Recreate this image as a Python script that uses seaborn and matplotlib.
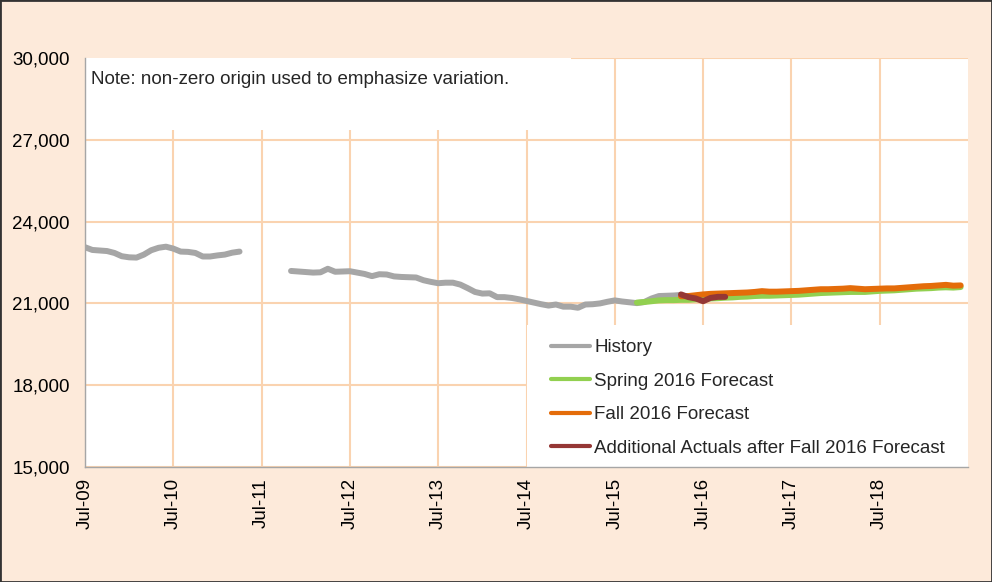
import numpy as np
import pandas as pd
import matplotlib
matplotlib.use("Agg")
import matplotlib.pyplot as plt
import seaborn as sns
from matplotlib.patches import Rectangle
from matplotlib.lines import Line2D

# month index: 0 = Jul-09, 12 = Jul-10, ...
history_start = 0
history = [
    23060, 22960, 22940, 22920, 22850, 22730, 22690, 22680, 22790, 22950, 23040, 23080,
    23010, 22900, 22890, 22850, 22720, 22720, 22760, 22790, 22860, 22900,
    None, None, None, None, None, None,
    22190, 22170, 22150, 22130, 22140, 22270, 22160, 22170,
    22180, 22130, 22080, 22000, 22070, 22060, 21990, 21970, 21960, 21950, 21850, 21790,
    21740, 21760, 21760, 21690, 21560, 21420, 21360, 21370, 21230, 21230, 21200, 21150,
    21090, 21030, 20970, 20920, 20960, 20880, 20880, 20840, 20960, 20970, 21000, 21060,
    21110, 21070, 21040, 21010, 21050, 21180, 21270, 21280, 21290, 21310,
]

spring_start = 75  # Oct-15
spring_2016 = [
    21030, 21050, 21080, 21110, 21120, 21120, 21130, 21130, 21150,
    21170, 21180, 21190, 21210, 21220, 21240, 21250, 21270, 21280, 21280, 21290, 21300,
    21310, 21320, 21340, 21360, 21380, 21390, 21400, 21410, 21420, 21420, 21420, 21440,
    21460, 21470, 21480, 21500, 21520, 21540, 21550, 21560, 21580, 21590, 21580, 21600,
]

fall_start = 81  # Apr-16
fall_2016 = [
    21260, 21270, 21300,
    21330, 21350, 21360, 21370, 21380, 21390, 21400, 21420, 21450, 21430, 21430, 21440,
    21450, 21460, 21480, 21500, 21520, 21520, 21530, 21540, 21560, 21540, 21520, 21530,
    21540, 21550, 21550, 21570, 21590, 21610, 21630, 21640, 21660, 21680, 21650, 21660,
]

actuals_start = 81  # Apr-16
additional_actuals = [21330, 21230, 21180, 21080, 21200, 21240, 21240]

tick_labels = ["Jul-09", "Jul-10", "Jul-11", "Jul-12", "Jul-13",
               "Jul-14", "Jul-15", "Jul-16", "Jul-17", "Jul-18"]
y_ticks = [15000, 18000, 21000, 24000, 27000, 30000]

series_names = ["History", "Spring 2016 Forecast", "Fall 2016 Forecast",
                "Additional Actuals after Fall 2016 Forecast"]
colors = ["#A6A6A6", "#92D050", "#E46C0A", "#953735"]

rows = []
seg = 0
prev_missing = False
for i, v in enumerate(history):
    if v is None:
        prev_missing = True
        continue
    if prev_missing:
        seg += 1
        prev_missing = False
    rows.append((history_start + i, v, series_names[0], seg))
for name, start, vals in [(series_names[1], spring_start, spring_2016),
                          (series_names[2], fall_start, fall_2016),
                          (series_names[3], actuals_start, additional_actuals)]:
    seg += 1
    for i, v in enumerate(vals):
        rows.append((start + i, v, name, seg))
df = pd.DataFrame(rows, columns=["month", "value", "series", "seg"])

sns.set_theme(style="white")
plt.rcParams["font.family"] = ["Liberation Sans", "DejaVu Sans"]
fs = 13.5

fig = plt.figure(figsize=(9.92, 5.82), dpi=100, facecolor="#FDEADA")
ax = fig.add_axes([85 / 992, 1 - 467 / 582, 883 / 992, 409 / 582])
ax.set_facecolor("white")

sns.lineplot(data=df, x="month", y="value", hue="series", units="seg",
             estimator=None, hue_order=series_names, palette=colors,
             lw=4.3, legend=False, ax=ax, solid_capstyle="round",
             solid_joinstyle="round", zorder=2)

ax.set_xlim(0, 120)
ax.set_ylim(15000, 30000)
ax.set_xticks(range(0, 120, 12))
ax.set_xticklabels(tick_labels, rotation=90)
ax.set_yticks(y_ticks)
ax.set_yticklabels([f"{t:,}" for t in y_ticks])
ax.set_xlabel("")
ax.set_ylabel("")

ax.set_axisbelow(True)
ax.grid(True, color="#FAD3B0", lw=1.5)
for s in ["top", "right"]:
    ax.spines[s].set_visible(False)
for s in ["left", "bottom"]:
    ax.spines[s].set_color("#A6A6A6")
    ax.spines[s].set_linewidth(1)
ax.tick_params(axis="both", direction="out", length=4, width=1,
               color="#A6A6A6", labelsize=fs, labelcolor="black")
ax.tick_params(axis="y", pad=7)
ax.tick_params(axis="x", pad=4)

# white boxes behind note and legend (hide gridlines as in the original)
ax.add_patch(Rectangle((0, 0.824), 0.55, 0.176, transform=ax.transAxes,
                       facecolor="white", edgecolor="none", zorder=1))
ax.add_patch(Rectangle((0.5006, 0), 0.4994, 0.347, transform=ax.transAxes,
                       facecolor="white", edgecolor="none", zorder=1))

ax.text((91 - 85) / 883, (467 - 80) / 409,
        "Note: non-zero origin used to emphasize variation.",
        transform=ax.transAxes, ha="left", va="center", fontsize=fs, zorder=3)

handles = [Line2D([], [], color=c, lw=3, solid_capstyle="round") for c in colors]
fig.legend(handles, series_names, loc="upper left",
           bbox_to_anchor=(551 / 992, 1 - 339 / 582), frameon=False,
           fontsize=fs, borderpad=0, borderaxespad=0, handlelength=2.1,
           handletextpad=0.2, labelspacing=0.88)

fig.add_artist(Rectangle((0, 0), 1, 1, transform=fig.transFigure,
                         fill=False, edgecolor="#333333", lw=2))

fig.savefig("out.png", dpi=100, facecolor=fig.get_facecolor())
